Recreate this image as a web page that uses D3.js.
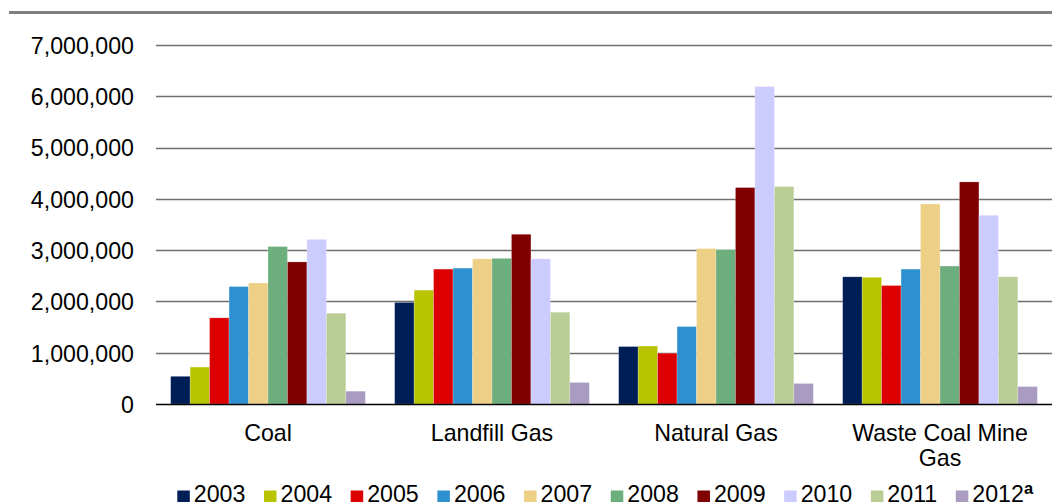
<!DOCTYPE html>
<html>
<head>
<meta charset="utf-8">
<script src="https://cdn.jsdelivr.net/npm/d3@7"></script>
<style>
  html, body { margin: 0; padding: 0; background: #fff; }
  svg { display: block; font-family: "Liberation Sans", Arial, sans-serif; }
</style>
</head>
<body>
<svg id="chart" width="1052" height="504"></svg>
<script>
// Project types along the x axis
const categories = ["Coal", "Landfill Gas", "Natural Gas", "Waste Coal Mine Gas"];
// Reporting years (series)
const years = ["2003", "2004", "2005", "2006", "2007", "2008", "2009", "2010", "2011", "2012"];
const yearColors = ["#001e56", "#b9c400", "#dd0000", "#2e90ce", "#edd085", "#6caf7c", "#800000", "#ccccff", "#bacd96", "#aa9bc0"];
// Values per project type, one entry per year
const coal        = [540000, 720000, 1680000, 2290000, 2360000, 3070000, 2770000, 3210000, 1770000, 250000];
const landfillGas = [1980000, 2220000, 2630000, 2650000, 2830000, 2840000, 3310000, 2830000, 1790000, 420000];
const naturalGas  = [1120000, 1130000, 990000, 1510000, 3030000, 3010000, 4220000, 6190000, 4240000, 400000];
const wasteCoal   = [2480000, 2470000, 2310000, 2630000, 3900000, 2690000, 4330000, 3680000, 2480000, 340000];
const seriesByCategory = [coal, landfillGas, naturalGas, wasteCoal];
const yTicks = [0, 1000000, 2000000, 3000000, 4000000, 5000000, 6000000, 7000000];

(function draw() {
  const svg = d3.select("#chart");
  const W = 1052;
  const plotLeft = 156, plotRight = 1052, plotTop = 45, plotBottom = 404;
  const fontSize = 23.2;

  // Rule under the heading
  svg.append("line")
    .attr("x1", 9).attr("x2", W).attr("y1", 12.5).attr("y2", 12.5)
    .attr("stroke", "#808080").attr("stroke-width", 3);

  const y = d3.scaleLinear().domain([0, 7000000]).range([plotBottom, plotTop]);
  const x0 = d3.scaleBand().domain(categories).range([plotLeft, plotRight])
    .paddingInner(0.131).paddingOuter(0.0655);
  const x1 = d3.scaleBand().domain(years).range([0, x0.bandwidth()]).padding(0);
  const color = d3.scaleOrdinal().domain(years).range(yearColors);

  // Gridlines
  svg.append("g")
    .selectAll("line")
    .data(yTicks.filter(t => t > 0))
    .join("line")
    .attr("x1", plotLeft).attr("x2", plotRight)
    .attr("y1", d => Math.round(y(d)) + 0.5).attr("y2", d => Math.round(y(d)) + 0.5)
    .attr("stroke", "#6e6e6e").attr("stroke-width", 1.4);

  // Y axis labels
  const yAxis = d3.axisLeft(y).tickValues(yTicks).tickSize(0).tickPadding(0)
    .tickFormat(d3.format(","));
  svg.append("g")
    .attr("transform", "translate(134,0)")
    .call(yAxis)
    .call(g => g.select(".domain").remove())
    .call(g => g.selectAll("text")
      .attr("font-size", fontSize)
      .attr("font-family", "Liberation Sans, Arial, sans-serif")
      .attr("fill", "#000")
      .attr("dy", "0.36em"));

  // Bars
  const groups = svg.append("g")
    .selectAll("g")
    .data(categories.map((c, i) => ({ cat: c, values: seriesByCategory[i] })))
    .join("g")
    .attr("transform", d => `translate(${x0(d.cat)},0)`);

  groups.selectAll("rect")
    .data(d => d.values.map((v, j) => ({ year: years[j], value: v })))
    .join("rect")
    .attr("x", d => x1(d.year))
    .attr("width", x1.bandwidth())
    .attr("y", d => y(d.value))
    .attr("height", d => y(0) - y(d.value))
    .attr("fill", d => color(d.year))
    .attr("stroke", "#ffffff").attr("stroke-opacity", 0.35).attr("stroke-width", 0.6);

  // Baseline axis
  svg.append("line")
    .attr("x1", plotLeft).attr("x2", plotRight)
    .attr("y1", plotBottom + 0.5).attr("y2", plotBottom + 0.5)
    .attr("stroke", "#000").attr("stroke-width", 1.5);

  // Category labels, wrapped to the bar-group width
  const catLabels = svg.append("g");
  categories.forEach(c => {
    const cx = x0(c) + x0.bandwidth() / 2;
    const t = catLabels.append("text")
      .attr("x", cx).attr("y", 441)
      .attr("text-anchor", "middle")
      .attr("font-size", fontSize)
      .attr("fill", "#000");
    const words = c.split(" ");
    const maxW = x0.bandwidth();
    let line = [];
    let ts = t.append("tspan").attr("x", cx).attr("dy", 0);
    words.forEach(w => {
      line.push(w);
      ts.text(line.join(" "));
      if (ts.node().getComputedTextLength() > maxW && line.length > 1) {
        line.pop();
        ts.text(line.join(" "));
        line = [w];
        ts = t.append("tspan").attr("x", cx).attr("dy", 25).text(w);
      }
    });
  });

  // Legend
  const legend = svg.append("g");
  const items = [];
  years.forEach((yr, i) => {
    const g = legend.append("g");
    g.append("rect")
      .attr("x", 0).attr("y", 490.5).attr("width", 12.5).attr("height", 11.5)
      .attr("fill", color(yr));
    const t = g.append("text")
      .attr("x", 16.5).attr("y", 502)
      .attr("font-size", fontSize)
      .attr("fill", "#000")
      .text(yr);
    if (i === years.length - 1) {
      t.append("tspan")
        .attr("font-size", 16.5).attr("font-weight", "bold")
        .attr("dy", -8).text("a");
    }
    const w = 16.5 + t.node().getComputedTextLength();
    items.push({ g, w });
  });
  const gap = 18.6;
  let lx = 177.3;
  items.forEach(it => {
    it.g.attr("transform", `translate(${lx},0)`);
    lx += it.w + gap;
  });
})();
</script>
</body>
</html>
